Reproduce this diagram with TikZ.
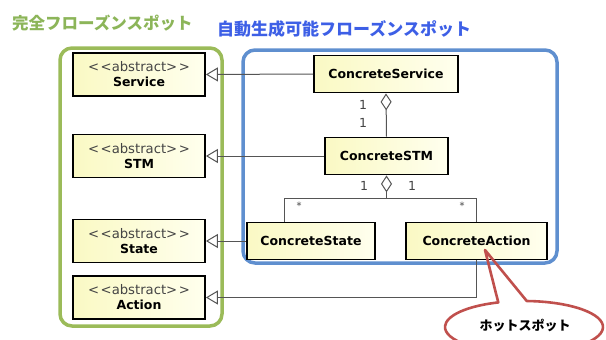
\documentclass[tikz,border=0pt]{standalone}
\usepackage{fontspec}
\setmainfont{DejaVu Sans}[Ligatures=TeXOff]
\newfontfamily\jpfont{Noto Sans CJK JP}
\usetikzlibrary{arrows.meta,calc}

\definecolor{frozengreen}{HTML}{9BBB59}
\definecolor{titlegreen}{HTML}{8CB559}
\definecolor{genblue}{HTML}{5F8FCF}
\definecolor{titleblue}{HTML}{3D5FE6}
\definecolor{hotred}{HTML}{C0504D}
\definecolor{linkgray}{HTML}{555555}
\definecolor{labelgray}{HTML}{444444}
\definecolor{boxtop}{HTML}{FAF9C4}
\definecolor{boxbot}{HTML}{FFFFEE}

% stereotype line of an abstract class
\newcommand{\stereo}{{\mdseries\fontsize{13.2}{15}\selectfont\color{labelgray}<\kern1.5pt<abstract>\kern1.5pt>}}

\begin{document}
\begin{tikzpicture}[x=1pt,y=-1pt,
  classbox/.style={draw=black, line width=1.8pt, left color=boxtop, right color=boxbot,
    align=center, inner sep=0pt, font=\fontsize{12.5}{15}\selectfont\bfseries},
  absbox/.style={classbox, minimum width=132pt, minimum height=43pt},
  zone/.style={line width=3.5pt, rounded corners=12pt},
  link/.style={draw=linkgray, line width=1pt},
  gen/.style={link, -{Triangle[open, length=12pt, width=14pt, line width=1pt, fill=white]}},
  agg/.style={link, -{Diamond[open, length=17pt, width=11pt, line width=1pt, fill=white]}},
  mult/.style={text=labelgray, inner sep=0pt, font=\fontsize{12.5}{12}\selectfont},
  many/.style={text=labelgray, inner sep=0pt, font=\fontsize{10}{10}\selectfont},
  title/.style={anchor=west, inner sep=0pt},
]
\clip (0,0) rectangle (606,340);

% zone titles
\node[title, text=titlegreen, font=\jpfont\bfseries\fontsize{16.5}{17}\selectfont] (tgreen) at (12,23) {完全フローズンスポット};
\node[title, text=titleblue, font=\jpfont\bfseries\fontsize{17}{18}\selectfont] (tblue) at (217,29) {自動生成可能フローズンスポット};

% zones
\draw[zone, draw=frozengreen] (60,48) rectangle (222,326);
\draw[zone, draw=genblue] (243,50) rectangle (557,263);

% abstract classes
\node[absbox] (service) at (139,74.5) {\stereo\\Service};
\node[absbox] (stm)     at (139,156)  {\stereo\\STM};
\node[absbox] (state)   at (139,241)  {\stereo\\State};
\node[absbox] (action)  at (139,297.5){\stereo\\Action};

% concrete classes
\node[classbox, minimum width=144pt, minimum height=37pt] (cservice) at (386,74) {ConcreteService};
\node[classbox, minimum width=123pt, minimum height=37pt] (cstm)     at (386.5,156) {ConcreteSTM};
\node[classbox, minimum width=128pt, minimum height=37pt] (cstate)   at (311,241) {ConcreteState};
\node[classbox, minimum width=141pt, minimum height=37pt] (caction)  at (476.5,241) {ConcreteAction};

% generalizations
\draw[gen] (cservice.west) -- (service.east);
\draw[gen] (cstm.west) -- (stm.east);
\draw[gen] (cstate.west) -- (state.east);
\draw[gen] (caction.south) |- (action.east);

% aggregations
\draw[agg] (cstm.north) -- (cservice.south);
\coordinate (j) at ($(cstm.south)+(0,23)$);
\draw[link] ([xshift=-27pt]cstate.north) |- (j) -| (caction.north);
\draw[agg] (j) -- (cstm.south);

% multiplicities
\node[mult] (m1) at (363,105) {1};
\node[mult] (m2) at (363,123) {1};
\node[mult] (m3) at (364,186) {1};
\node[mult] (m4) at (412,186) {1};
\node[many] (m5) at (299,206) {*};
\node[many] (m6) at (462,206) {*};

% hot spot callout
\coordinate (hc) at (524,327);
\coordinate (tip) at (485,250);
\draw[hotred, line width=2.6pt, line join=round]
  ($(hc)+(88:79pt and 26pt)$) arc[start angle=88, end angle=-251, x radius=79pt, y radius=26pt]
  -- (tip) -- cycle;
\node[inner sep=0pt, font=\jpfont\bfseries\fontsize{13}{13}\selectfont] (hot) at (525,325) {ホットスポット};
\end{tikzpicture}
\end{document}
